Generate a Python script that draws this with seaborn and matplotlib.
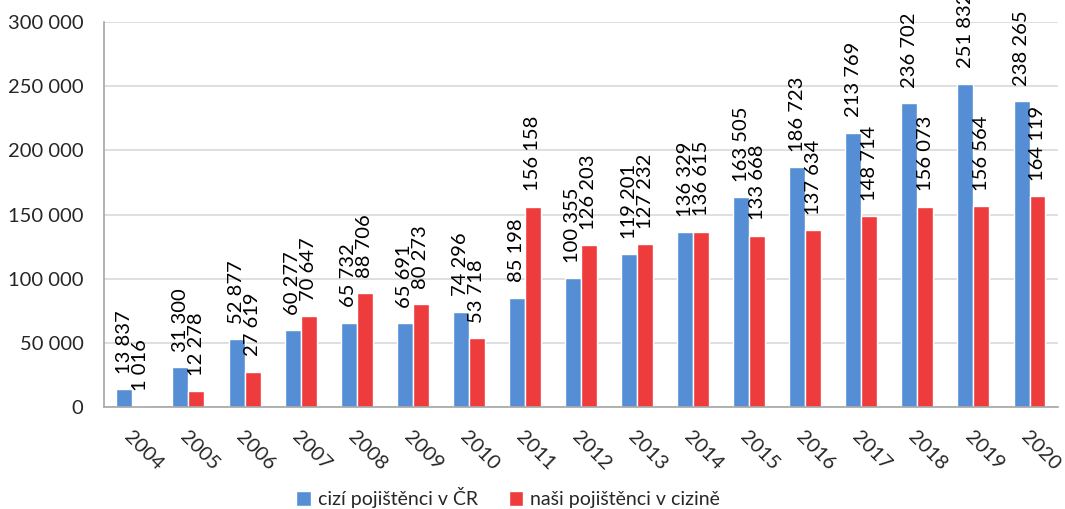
import numpy as np
import pandas as pd
import matplotlib
matplotlib.use("Agg")
import matplotlib.pyplot as plt
import seaborn as sns

# data
years = [str(y) for y in range(2004, 2021)]
cizi = [13837, 31300, 52877, 60277, 65732, 65691, 74296, 85198, 100355,
        119201, 136329, 163505, 186723, 213769, 236702, 251832, 238265]
nasi = [1016, 12278, 27619, 70647, 88706, 80273, 53718, 156158, 126203,
        127232, 136615, 133668, 137634, 148714, 156073, 156564, 164119]
series_names = ["cizí pojištěnci v ČR", "naši pojištěnci v cizině"]
colors = ["#558ED5", "#EE3B3B"]

df = pd.DataFrame({
    "rok": years * 2,
    "pocet": cizi + nasi,
    "skupina": [series_names[0]] * len(years) + [series_names[1]] * len(years),
})

sns.set_theme(style="white")
plt.rcParams["font.family"] = ["Lato", "DejaVu Sans"]

fig = plt.figure(figsize=(10.65, 5.09), dpi=100)
ax = fig.add_axes([0.098, 0.2, 0.895, 0.757])

sns.barplot(data=df, x="rok", y="pocet", hue="skupina", palette=colors,
            width=0.57, saturation=1, ax=ax)

def fmt(v):
    return f"{int(v):,}".replace(",", " ")

for cont in ax.containers:
    ax.bar_label(cont, labels=[fmt(b.get_height()) for b in cont],
                 rotation=90, padding=11, fontsize=14.5, color="black")

ax.set_ylim(0, 300000)
ax.set_yticks(np.arange(0, 300001, 50000))
ax.set_yticklabels([fmt(v) for v in np.arange(0, 300001, 50000)], fontsize=14.5)
ax.set_xlim(-0.5, len(years) - 0.5)
ax.yaxis.grid(True, color="#D9D9D9", linewidth=1.2)
ax.set_axisbelow(True)
ax.set_xlabel("")
ax.set_ylabel("")
ax.tick_params(axis="y", length=0, pad=15)
ax.tick_params(axis="x", length=0, pad=15)

plt.setp(ax.get_xticklabels(), rotation=-45, ha="left", rotation_mode="anchor",
         fontsize=14.5)

for s in ["top", "right"]:
    ax.spines[s].set_visible(False)
ax.spines["left"].set_color("#A6A6A6")
ax.spines["bottom"].set_color("#A6A6A6")
ax.spines["left"].set_linewidth(1.2)
ax.spines["bottom"].set_linewidth(1.2)

handles, labels = ax.get_legend_handles_labels()
ax.legend(handles, labels, loc="center", bbox_to_anchor=(0.477, 0.022),
          bbox_transform=fig.transFigure,
          ncol=2, frameon=False, fontsize=14, handlelength=0.75, handleheight=0.75,
          columnspacing=1.6, handletextpad=0.35)

fig.savefig("out.png", dpi=100)
